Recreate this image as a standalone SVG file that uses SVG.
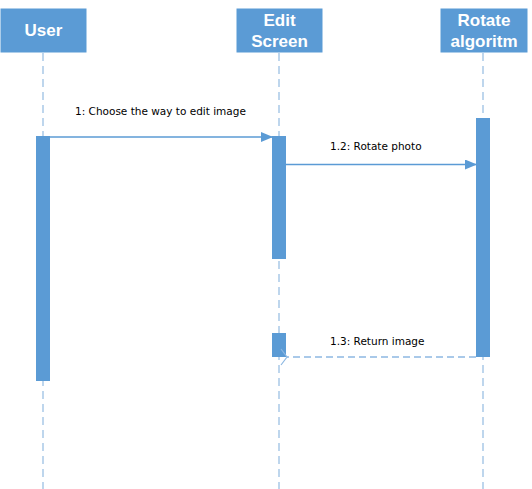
<svg xmlns="http://www.w3.org/2000/svg" width="532" height="489" viewBox="0 0 532 489">
<style>
.head{fill:#5B9BD5;stroke:#5B9BD5;}
.ht{font-family:"Liberation Sans",Arial,sans-serif;font-weight:bold;font-size:17px;fill:#FFFFFF;text-anchor:middle;}
.life{stroke:#A9C9E8;stroke-width:1.5;stroke-dasharray:8,5;fill:none;}
.act{fill:#5B9BD5;stroke:#5B9BD5;}
.msg{stroke:#5B9BD5;stroke-width:1.5;fill:none;}
.ret{stroke:#8DB8E2;stroke-width:1.5;stroke-dasharray:7,4;fill:none;}
.lbl{font-family:"DejaVu Sans",Tahoma,sans-serif;font-size:10.5px;fill:#000000;}
</style>
<defs>
<marker id="fill" markerWidth="12" markerHeight="10" refX="11" refY="5" orient="auto" markerUnits="userSpaceOnUse">
<path d="M0,0 L12,5 L0,10 Z" fill="#5B9BD5"/>
</marker>
<marker id="open" markerWidth="12" markerHeight="18" refX="1" refY="9" orient="auto" markerUnits="userSpaceOnUse">
<path d="M7,1 L1,9 L7,17" fill="none" stroke="#8DB8E2" stroke-width="1.2"/>
</marker>
</defs>
<rect width="532" height="489" fill="#FFFFFF"/>
<g id="lifelines">
<line class="life" x1="43" y1="53" x2="43" y2="489"/>
<line class="life" x1="279" y1="53" x2="279" y2="489"/>
<line class="life" x1="483" y1="53" x2="483" y2="489"/>
</g>
<g id="user">
<rect class="head" x="1" y="9" width="85" height="43"/>
<text class="ht" x="43.5" y="36">User</text>
<rect class="act" x="36.5" y="136.5" width="13" height="244"/>
</g>
<g id="editscreen">
<rect class="head" x="237" y="9" width="85" height="43"/>
<text class="ht" x="279.5" y="26">Edit</text>
<text class="ht" x="279.5" y="47">Screen</text>
<rect class="act" x="272.5" y="136.5" width="13" height="122"/>
<rect class="act" x="272.5" y="333.5" width="13" height="23"/>
</g>
<g id="rotate">
<rect class="head" x="441" y="9" width="86" height="43"/>
<text class="ht" x="484" y="26">Rotate</text>
<text class="ht" x="484" y="47">algoritm</text>
<rect class="act" x="476.5" y="118.5" width="13" height="238"/>
</g>
<g id="connectors">
<line class="msg" x1="50" y1="137" x2="272" y2="137" marker-end="url(#fill)"/>
<text class="lbl" x="75" y="115">1: Choose the way to edit image</text>
<line class="msg" x1="286" y1="164.5" x2="476" y2="164.5" marker-end="url(#fill)"/>
<text class="lbl" x="330" y="150">1.2: Rotate photo</text>
<line class="ret" x1="476" y1="357" x2="287" y2="357" marker-end="url(#open)"/>
<text class="lbl" x="330" y="345">1.3: Return image</text>
</g>
</svg>
